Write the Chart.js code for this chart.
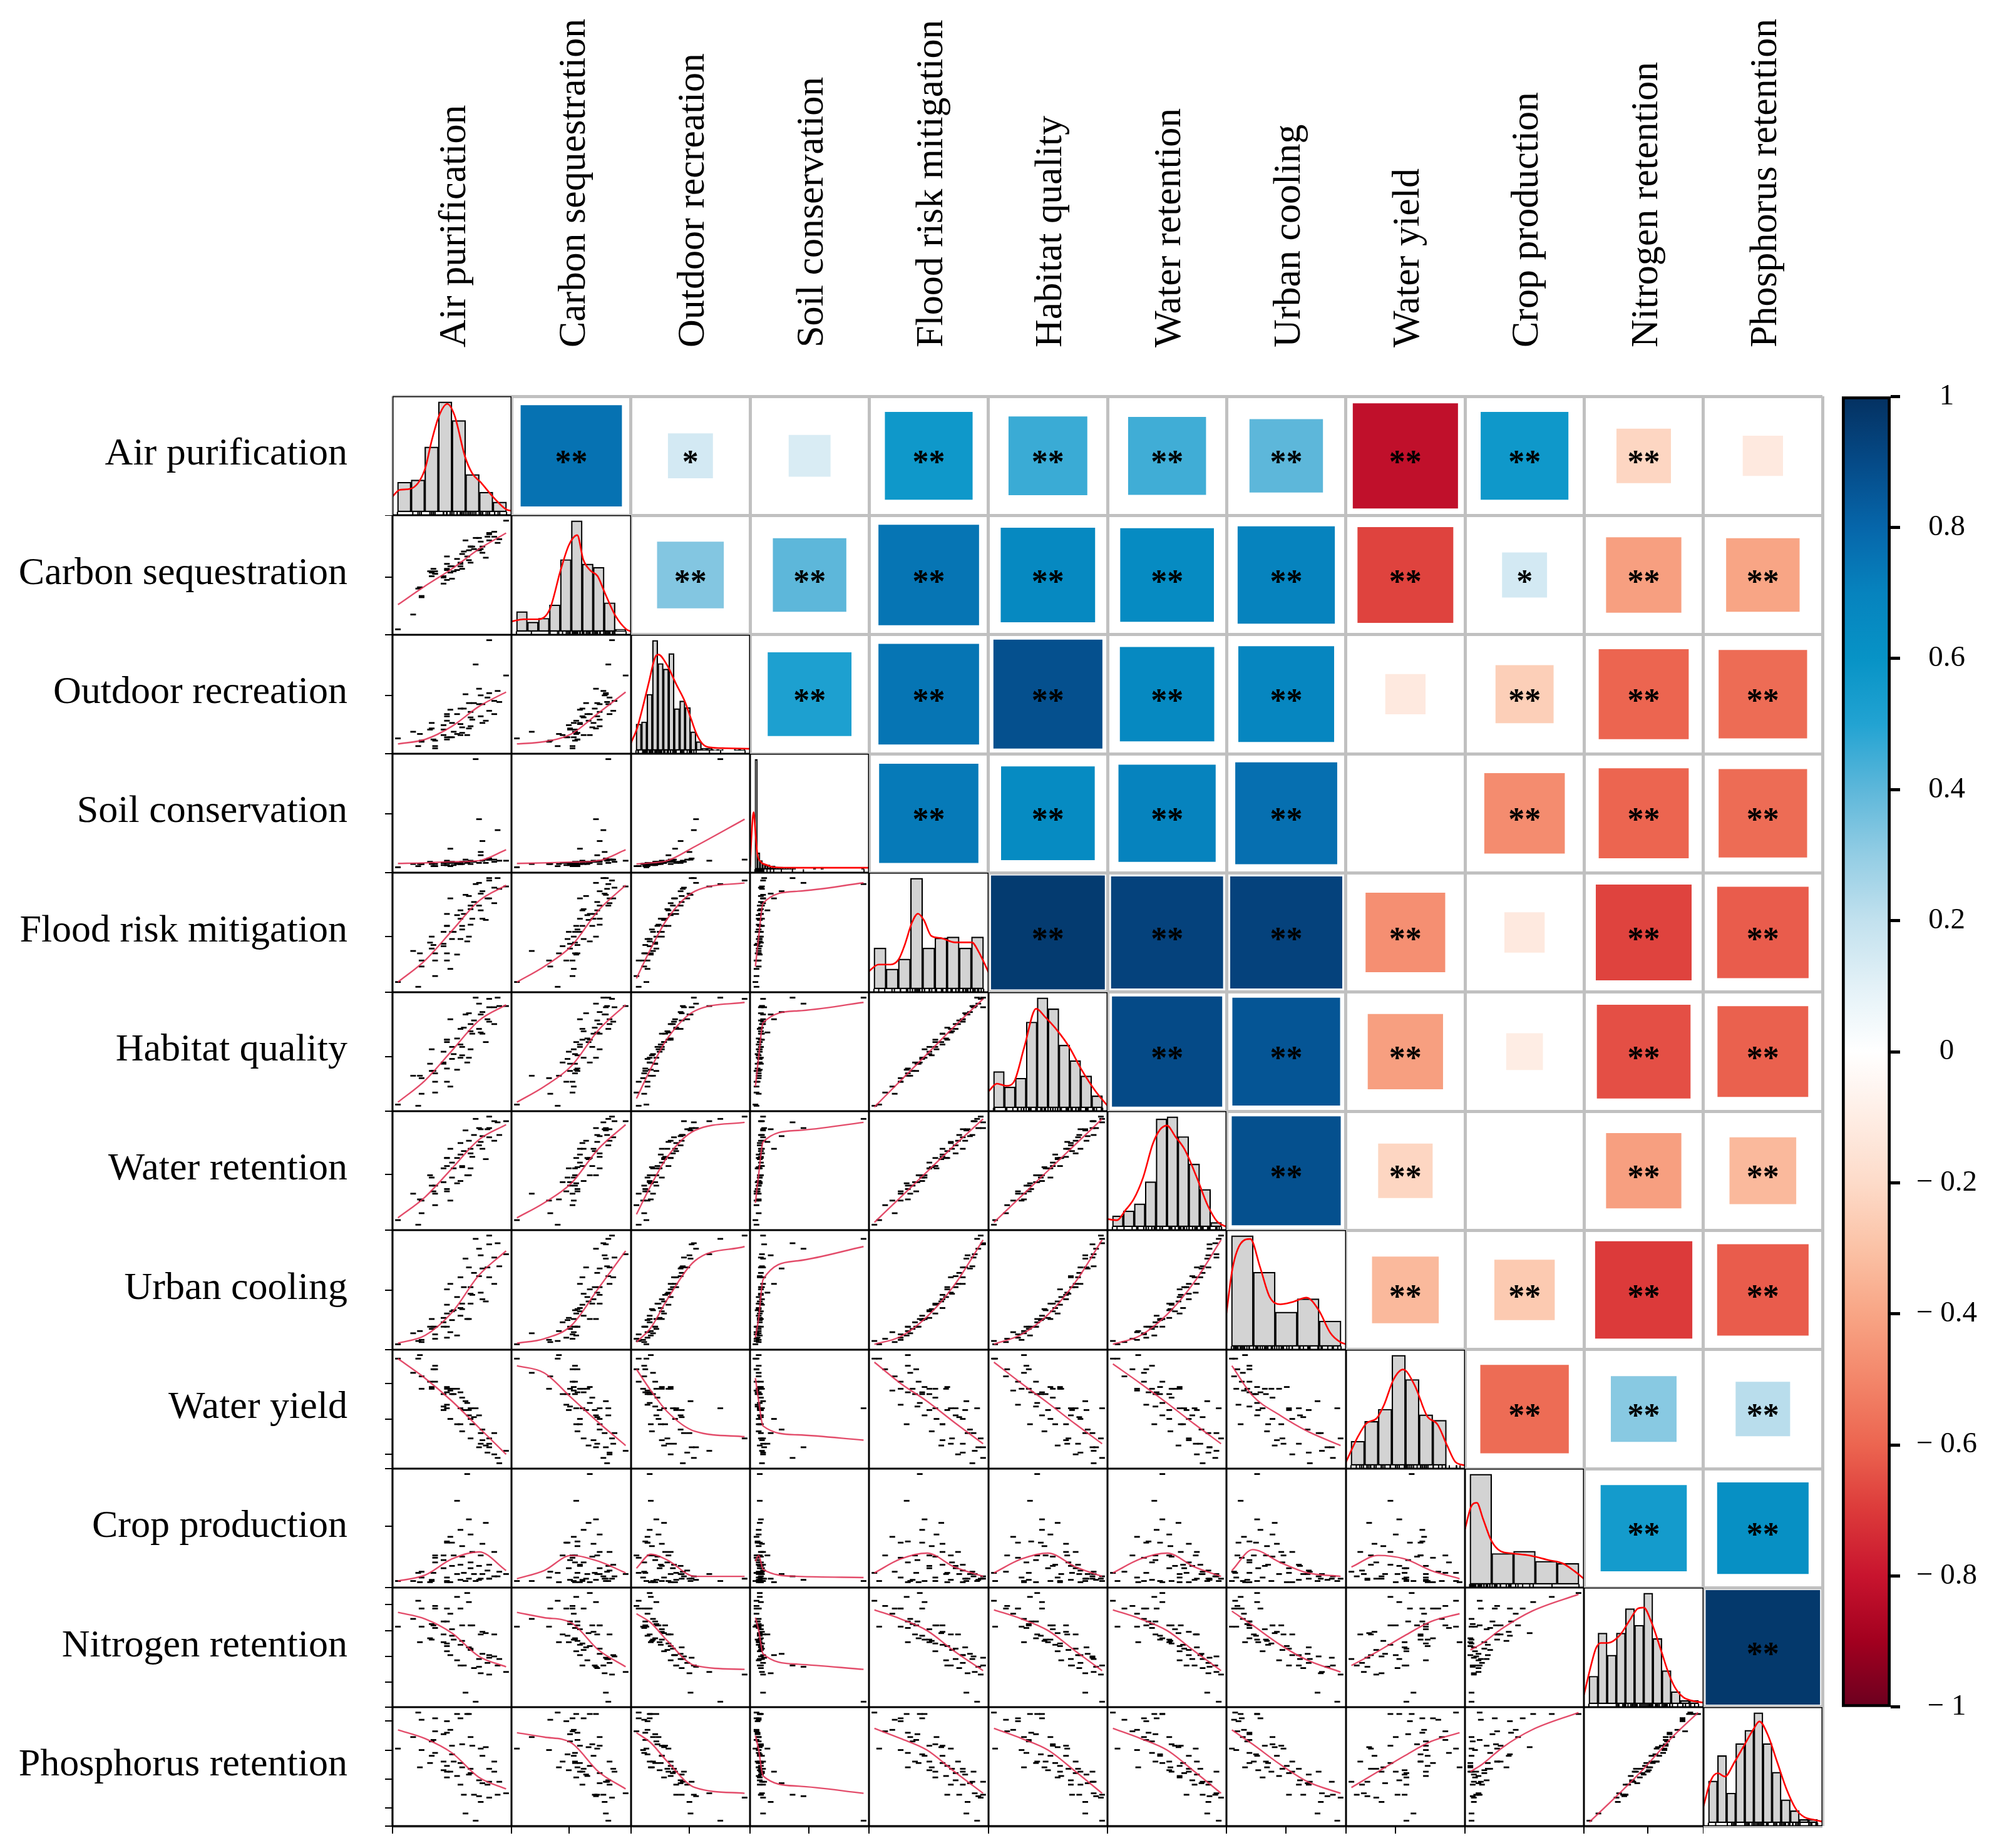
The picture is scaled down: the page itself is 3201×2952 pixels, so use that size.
<!DOCTYPE html>
<html><head><meta charset="utf-8">
<script src="https://cdn.jsdelivr.net/npm/chart.js@4.4.1/dist/chart.umd.min.js"></script>
<style>
html,body{margin:0;padding:0;background:#fff;}
body{width:3201px;height:2952px;position:relative;overflow:hidden;}
.lab{position:absolute;font-family:'Liberation Serif','Times New Roman',serif;font-size:62px;line-height:62px;white-space:nowrap;color:#000;}
</style></head><body>
<script>
// ---------------- DATA ----------------
const variableNames = ['Air purification','Carbon sequestration','Outdoor recreation','Soil conservation','Flood risk mitigation','Habitat quality','Water retention','Urban cooling','Water yield','Crop production','Nitrogen retention','Phosphorus retention'];

// observations (one value per spatial unit, per service)
const airPurification = [0.26,0.14,0.36,0.28,0.45,0.28,0.36,0.27,0.43,0.36,0.23,0.43,0.49,0.35,0.41,0.34,0.55,0.41,0.46,0.33,0.51,0.41,0.56,0.47,0.34,0.52,0.46,0.57,0.43,0.52,0.66,0.43,0.51,0.58,0.49,0.64,0.43,0.57,0.53,0.63,0.57,0.51,0.71,0.62,0.45,0.59,0.68,0.56,0.67,0.64,0.54,0.74,0.63,0.71,0.62,0.78,0.68,0.60,0.73,0.68];
const carbonSequestration = [0.41,0.08,0.53,0.35,0.54,0.34,0.53,0.42,0.48,0.55,0.20,0.57,0.56,0.57,0.45,0.51,0.67,0.51,0.49,0.55,0.62,0.50,0.72,0.55,0.54,0.57,0.59,0.75,0.56,0.69,0.66,0.61,0.59,0.75,0.65,0.70,0.67,0.62,0.71,0.73,0.75,0.61,0.83,0.82,0.59,0.73,0.86,0.64,0.83,0.75,0.80,0.81,0.79,0.87,0.72,0.96,0.80,0.82,0.78,0.85];
const outdoorRecreation = [0.04,0.11,0.02,0.09,0.12,0.08,0.04,0.15,0.12,0.09,0.17,0.10,0.15,0.10,0.14,0.20,0.14,0.19,0.12,0.19,0.14,0.23,0.20,0.17,0.25,0.16,0.25,0.22,0.27,0.21,0.27,0.31,0.24,0.28,0.33,0.25,0.33,0.30,0.38,0.31,0.35,0.38,0.33,0.42,0.37,0.43,0.36,0.43,0.48,0.42,0.51,0.44,0.50,0.45,0.56,0.68,0.52,0.78,0.54,1.00];
const soilConservation = [0.02,0.01,0.02,0.04,0.02,0.04,0.02,0.04,0.03,0.04,0.04,0.03,0.05,0.02,0.05,0.04,0.05,0.03,0.05,0.06,0.04,0.05,0.06,0.03,0.05,0.04,0.06,0.04,0.05,0.06,0.05,0.07,0.04,0.06,0.04,0.07,0.06,0.06,0.06,0.12,0.07,0.05,0.08,0.05,0.18,0.06,0.08,0.06,0.08,0.25,0.08,0.07,0.15,0.06,0.45,0.07,0.09,1.00,0.35,0.08];
const floodRiskMitigation = [0.08,0.12,0.17,0.25,0.23,0.30,0.30,0.36,0.30,0.36,0.38,0.36,0.35,0.43,0.42,0.40,0.46,0.44,0.48,0.45,0.48,0.54,0.50,0.54,0.50,0.56,0.54,0.60,0.59,0.59,0.64,0.59,0.65,0.65,0.68,0.65,0.69,0.73,0.69,0.72,0.76,0.72,0.78,0.76,0.82,0.79,0.82,0.84,0.82,0.88,0.85,0.90,0.86,0.91,0.95,0.92,0.99,0.94,0.99,0.97];
const habitatQuality = [0.09,0.10,0.20,0.19,0.25,0.32,0.29,0.34,0.29,0.36,0.34,0.40,0.39,0.38,0.45,0.38,0.45,0.44,0.48,0.44,0.49,0.54,0.49,0.52,0.56,0.51,0.58,0.56,0.62,0.58,0.62,0.64,0.60,0.69,0.65,0.69,0.64,0.71,0.74,0.70,0.77,0.73,0.77,0.73,0.81,0.80,0.79,0.86,0.81,0.87,0.85,0.92,0.85,0.91,0.94,0.92,0.91,0.99,0.99,0.98];
const waterRetention = [0.06,0.10,0.23,0.16,0.27,0.27,0.33,0.28,0.35,0.40,0.33,0.37,0.42,0.35,0.43,0.40,0.49,0.43,0.47,0.49,0.44,0.55,0.49,0.55,0.47,0.56,0.60,0.55,0.64,0.57,0.63,0.57,0.67,0.65,0.64,0.72,0.64,0.72,0.70,0.78,0.68,0.77,0.79,0.75,0.72,0.84,0.82,0.79,0.89,0.83,0.88,0.84,0.89,0.96,0.90,0.96,0.90,0.98,0.95,1.00];
const urbanCooling = [0.04,0.01,0.06,0.03,0.12,0.05,0.10,0.13,0.07,0.17,0.11,0.17,0.09,0.17,0.21,0.15,0.24,0.17,0.23,0.17,0.27,0.25,0.24,0.32,0.24,0.33,0.31,0.38,0.29,0.38,0.40,0.37,0.34,0.46,0.44,0.42,0.51,0.47,0.53,0.48,0.53,0.62,0.56,0.63,0.56,0.66,0.62,0.71,0.71,0.70,0.79,0.72,0.82,0.80,0.88,0.83,0.92,0.97,0.93,1.00];
const waterYield = [0.74,0.74,0.68,0.64,0.56,0.57,0.61,0.76,0.48,0.70,0.66,0.55,0.37,0.68,0.54,0.57,0.49,0.47,0.54,0.61,0.55,0.45,0.42,0.54,0.58,0.33,0.57,0.40,0.46,0.52,0.25,0.57,0.37,0.37,0.57,0.28,0.58,0.29,0.45,0.26,0.46,0.46,0.20,0.42,0.40,0.41,0.26,0.45,0.21,0.34,0.50,0.15,0.32,0.32,0.24,0.22,0.24,0.46,0.18,0.29];
const cropProduction = [0.10,0.03,0.25,0.11,0.41,0.06,0.23,0.02,0.36,0.19,0.03,0.37,0.72,0.10,0.25,0.04,0.95,0.21,0.36,0.02,0.47,0.14,0.56,0.25,0.03,0.33,0.16,0.43,0.06,0.24,0.53,0.03,0.17,0.28,0.09,0.35,0.02,0.19,0.10,0.25,0.14,0.04,0.28,0.16,0.02,0.09,0.17,0.05,0.12,0.09,0.03,0.11,0.05,0.07,0.04,0.09,0.05,0.03,0.07,0.05];
const nitrogenRetention = [0.83,0.63,0.79,0.77,0.73,0.63,0.77,0.51,0.77,0.62,0.69,0.67,0.86,0.64,0.57,0.65,0.89,0.67,0.56,0.54,0.77,0.51,0.82,0.53,0.53,0.52,0.61,0.64,0.44,0.64,0.58,0.50,0.49,0.64,0.37,0.59,0.48,0.45,0.33,0.57,0.46,0.33,0.57,0.38,0.41,0.31,0.41,0.47,0.35,0.42,0.12,0.38,0.27,0.40,0.32,0.28,0.39,0.05,0.33,0.26];
const phosphorusRetention = [0.86,0.61,0.73,0.81,0.74,0.60,0.82,0.48,0.80,0.58,0.69,0.72,0.85,0.67,0.52,0.66,0.85,0.71,0.57,0.51,0.82,0.46,0.85,0.52,0.56,0.48,0.63,0.69,0.41,0.64,0.62,0.45,0.51,0.63,0.42,0.56,0.49,0.47,0.29,0.61,0.44,0.36,0.52,0.39,0.45,0.29,0.47,0.43,0.36,0.37,0.16,0.38,0.24,0.45,0.28,0.30,0.38,0.11,0.29,0.27];

// histogram bar heights (relative to tallest bar)
const histAirPurification = [0.27,0.29,0.59,1.0,0.83,0.34,0.18,0.09];
const histCarbonSequestration = [0.18,0.085,0.12,0.24,0.65,1.0,0.61,0.58,0.26,0.02];
const histOutdoorRecreation = [0.24,0.26,0.51,1.0,0.79,0.74,0.88,0.38,0.45,0.39,0.17,0.08,0.02,0.02,0.01,0.01,0,0,0.015,0.015];
const histSoilConservation = [1.0,0.15,0.08,0.05,0.04,0.04,0.03,0.03,0.02,0.02,0.02,0.015,0.015,0.01,0.01,0.01,0,0,0,0,0,0,0,0.01,0,0,0.01,0,0,0,0,0,0,0,0,0,0,0,0,0,0,0,0.01];
const histFloodRiskMitigation = [0.37,0.18,0.27,1.0,0.37,0.46,0.47,0.37,0.47];
const histHabitatQuality = [0.33,0.19,0.27,0.78,1.0,0.9,0.57,0.43,0.29,0.11];
const histWaterRetention = [0.1,0.145,0.21,0.41,0.98,1.0,0.82,0.57,0.34,0.04];
const histUrbanCooling = [1.0,0.67,0.31,0.43,0.23];
const histWaterYield = [0.22,0.4,0.51,1.0,0.78,0.46,0.41,0];
const histCropProduction = [1.0,0.28,0.3,0.21,0.19];
const histNitrogenRetention = [0.25,0.64,0.44,0.64,0.86,0.71,1.0,0.59,0.3,0.11,0.03,0.03];
const histPhosphorusRetention = [0.38,0.61,0.27,0.72,0.84,1.0,0.72,0.46,0.21,0.11,0.03,0.03];

// density curves [fraction of panel width, height relative to tallest bar]
const densAirPurification = [[0,.14],[.06,.2],[.15,.21],[.27,.38],[.33,.65],[.39,.87],[.46,.98],[.52,.88],[.61,.5],[.67,.35],[.74,.27],[.85,.13],[.96,.02],[1,.01]];
const densCarbonSequestration = [[0,.09],[.1,.11],[.22,.11],[.32,.2],[.41,.55],[.48,.78],[.55,.87],[.6,.65],[.66,.55],[.72,.5],[.78,.35],[.87,.14],[.96,.02],[1,0]];
const densOutdoorRecreation = [[0,.07],[.05,.2],[.1,.4],[.15,.62],[.2,.84],[.23,.87],[.3,.78],[.38,.6],[.45,.45],[.5,.3],[.55,.15],[.6,.06],[.65,.03],[.8,.02],[1,.015]];
const densSoilConservation = [[0,.02],[.015,.35],[.03,.52],[.045,.35],[.06,.15],[.09,.07],[.14,.04],[.2,.02],[.4,.015],[1,.015]];
const densFloodRiskMitigation = [[0,.16],[.08,.22],[.18,.22],[.25,.27],[.3,.4],[.36,.6],[.41,.68],[.46,.62],[.52,.48],[.6,.46],[.72,.42],[.86,.42],[.92,.33],[1,.15]];
const densHabitatQuality = [[0,.15],[.07,.22],[.15,.2],[.22,.25],[.3,.55],[.4,.9],[.48,.82],[.58,.7],[.68,.55],[.78,.35],[.9,.15],[1,.02]];
const densWaterRetention = [[0,.07],[.08,.06],[.15,.15],[.22,.25],[.3,.45],[.38,.75],[.44,.88],[.5,.92],[.57,.82],[.65,.7],[.75,.45],[.84,.2],[.92,.05],[1,0]];
const densUrbanCooling = [[0,.3],[.05,.7],[.12,.93],[.2,.97],[.28,.72],[.36,.45],[.45,.38],[.55,.4],[.67,.44],[.77,.33],[.87,.12],[.95,.04],[1,.02]];
const densWaterYield = [[0,.03],[.1,.26],[.17,.38],[.26,.43],[.32,.55],[.4,.78],[.48,.87],[.58,.72],[.68,.45],[.77,.37],[.85,.18],[.92,.03],[1,0]];
const densCropProduction = [[0,.5],[.05,.7],[.1,.74],[.15,.6],[.22,.4],[.3,.3],[.4,.28],[.55,.26],[.7,.22],[.82,.19],[.92,.12],[1,.05]];
const densNitrogenRetention = [[0,.08],[.06,.35],[.1,.5],[.14,.55],[.2,.55],[.3,.62],[.38,.75],[.45,.86],[.5,.87],[.56,.75],[.64,.5],[.7,.3],[.76,.15],[.83,.06],[.9,.03],[1,.01]];
const densPhosphorusRetention = [[0,.15],[.06,.38],[.12,.45],[.18,.42],[.26,.55],[.34,.7],[.42,.85],[.47,.92],[.54,.8],[.62,.55],[.7,.3],[.78,.12],[.85,.05],[.92,.03],[1,.01]];

// correlation coefficients, upper triangle (row i, columns i+1..11)
const corrUpper = [
 [0.76,0.15,0.13,0.57,0.46,0.45,0.40,-0.82,0.57,-0.22,-0.12],
 [0.33,0.40,0.75,0.66,0.65,0.70,-0.68,0.15,-0.42,-0.40],
 [0.52,0.75,0.88,0.66,0.68,-0.12,-0.25,-0.60,-0.58],
 [0.73,0.65,0.70,0.77,0.00,-0.48,-0.60,-0.58],
 [0.96,0.93,0.93,-0.47,-0.12,-0.68,-0.62],
 [0.90,0.86,-0.42,-0.10,-0.65,-0.61],
 [0.88,-0.22,0.00,-0.42,-0.33],
 [-0.33,-0.27,-0.70,-0.62],
 [-0.58,0.32,0.22],
 [0.55,0.62],
 [0.97]
];
const signifUpper = [
 ['**','*','','**','**','**','**','**','**','**',''],
 ['**','**','**','**','**','**','**','*','**','**'],
 ['**','**','**','**','**','','**','**','**'],
 ['**','**','**','**','','**','**','**'],
 ['**','**','**','**','','**','**'],
 ['**','**','**','','**','**'],
 ['**','**','','**','**'],
 ['**','**','**','**'],
 ['**','**','**'],
 ['**','**'],
 ['**']
];

// smoothing-line x positions per column variable and y values per panel (row i, column j<i)
const smoothX = [
 [0.14,0.30,0.46,0.62,0.78],[0.08,0.30,0.52,0.74,0.96],[0.02,0.15,0.30,0.55,1.0],[0.01,0.04,0.08,0.40,1.0],
 [0.08,0.30,0.52,0.75,0.99],[0.09,0.32,0.54,0.77,0.99],[0.06,0.30,0.53,0.77,1.0],[0.01,0.20,0.45,0.70,1.0],
 [0.15,0.30,0.45,0.60,0.76],[0.02,0.12,0.30,0.55,0.95],[0.05,0.26,0.47,0.68,0.89]
];
const smoothY = [
 [],
 [[0.28,0.43,0.57,0.73,0.86]],
 [[0.06,0.10,0.22,0.40,0.53],[0.06,0.08,0.15,0.34,0.53]],
 [[0.045,0.05,0.06,0.07,0.17],[0.045,0.05,0.057,0.07,0.17],[0.04,0.05,0.07,0.2,0.45]],
 [[0.12,0.3,0.55,0.8,0.93],[0.12,0.25,0.42,0.72,0.93],[0.15,0.4,0.65,0.88,0.95],[0.25,0.5,0.78,0.88,0.95]],
 [[0.12,0.3,0.55,0.8,0.93],[0.12,0.25,0.42,0.72,0.93],[0.15,0.4,0.65,0.88,0.95],[0.25,0.5,0.78,0.88,0.95],[0.08,0.3,0.52,0.75,0.98]],
 [[0.12,0.3,0.55,0.8,0.93],[0.12,0.25,0.42,0.72,0.93],[0.15,0.4,0.65,0.88,0.95],[0.25,0.5,0.78,0.88,0.95],[0.08,0.3,0.52,0.75,0.98],[0.08,0.31,0.53,0.76,0.98]],
 [[0.02,0.09,0.30,0.64,0.86],[0.02,0.06,0.18,0.52,0.86],[0.03,0.16,0.42,0.77,0.9],[0.07,0.25,0.6,0.77,0.9],[0.01,0.08,0.26,0.55,0.96],[0.01,0.1,0.28,0.58,0.96],[0.01,0.09,0.28,0.58,0.96]],
 [[0.74,0.63,0.5,0.35,0.2],[0.7,0.66,0.52,0.38,0.25],[0.68,0.56,0.44,0.33,0.3],[0.63,0.5,0.36,0.31,0.28],[0.72,0.6,0.5,0.38,0.26],[0.72,0.6,0.49,0.37,0.26],[0.71,0.6,0.49,0.37,0.26],[0.7,0.53,0.42,0.33,0.25]],
 [[0.03,0.08,0.22,0.28,0.12],[0.05,0.12,0.25,0.2,0.1],[0.14,0.26,0.21,0.07,0.07],[0.2,0.25,0.13,0.07,0.06],[0.1,0.22,0.27,0.15,0.07],[0.1,0.22,0.27,0.15,0.07],[0.1,0.22,0.27,0.15,0.07],[0.12,0.3,0.19,0.1,0.07],[0.15,0.25,0.22,0.12,0.05]],
 [[0.74,0.69,0.58,0.4,0.32],[0.74,0.7,0.66,0.45,0.32],[0.73,0.66,0.52,0.33,0.3],[0.7,0.6,0.42,0.34,0.3],[0.76,0.69,0.6,0.44,0.29],[0.76,0.69,0.6,0.44,0.29],[0.76,0.69,0.6,0.44,0.29],[0.75,0.64,0.49,0.37,0.28],[0.33,0.44,0.56,0.67,0.73],[0.45,0.5,0.62,0.75,0.88]],
 [[0.74,0.68,0.58,0.41,0.33],[0.72,0.69,0.65,0.45,0.33],[0.72,0.65,0.52,0.34,0.3],[0.7,0.6,0.42,0.35,0.3],[0.75,0.68,0.6,0.45,0.3],[0.75,0.68,0.6,0.45,0.3],[0.75,0.68,0.6,0.45,0.3],[0.74,0.64,0.5,0.38,0.3],[0.34,0.45,0.56,0.66,0.72],[0.45,0.5,0.62,0.74,0.86],[0.1,0.28,0.47,0.68,0.86]]
];

// colour bar
const colorStops = [[-1,'#6B001F'],[-0.9,'#A2001F'],[-0.8,'#C8142E'],[-0.7,'#DC3A3A'],[-0.6,'#EC6550'],[-0.5,'#F3866A'],[-0.4,'#F8A585'],[-0.3,'#FBC2A6'],[-0.2,'#FDDBC9'],[-0.1,'#FEEDE4'],[0,'#FFFFFF'],[0.1,'#E3F1F7'],[0.2,'#C2E1EE'],[0.3,'#93CDE4'],[0.4,'#5DB7DA'],[0.5,'#22A3D2'],[0.6,'#0793C6'],[0.7,'#0683BE'],[0.8,'#0666AA'],[0.9,'#054A87'],[1,'#043161']];
const colorbarTickLabels = ['\u2212 1','\u2212 0.8','\u2212 0.6','\u2212 0.4','\u2212 0.2','0','0.2','0.4','0.6','0.8','1'];

// ---------------- RENDERING ----------------
const observations = [airPurification,carbonSequestration,outdoorRecreation,soilConservation,floodRiskMitigation,habitatQuality,waterRetention,urbanCooling,waterYield,cropProduction,nitrogenRetention,phosphorusRetention];
const histBins = [histAirPurification,histCarbonSequestration,histOutdoorRecreation,histSoilConservation,histFloodRiskMitigation,histHabitatQuality,histWaterRetention,histUrbanCooling,histWaterYield,histCropProduction,histNitrogenRetention,histPhosphorusRetention];
const densities = [densAirPurification,densCarbonSequestration,densOutdoorRecreation,densSoilConservation,densFloodRiskMitigation,densHabitatQuality,densWaterRetention,densUrbanCooling,densWaterYield,densCropProduction,densNitrogenRetention,densPhosphorusRetention];

Chart.defaults.animation = false;
Chart.defaults.responsive = false;
Chart.defaults.maintainAspectRatio = false;
Chart.defaults.devicePixelRatio = 1;
Chart.defaults.events = [];
Chart.defaults.plugins.legend.display = false;
Chart.defaults.plugins.tooltip.enabled = false;
// keep the plot area exactly on the panel: no automatic padding for large point markers
[Chart.LineController, Chart.ScatterController].forEach(C => { if (C) C.prototype.getMaxOverflow = function(){ return 0; }; });

const GX = 627, GY = 633, CELL = 190.33, NV = 12;
const LABEL_FONT = "'Liberation Serif','Times New Roman',serif";

function hexRgb(h){return [parseInt(h.slice(1,3),16),parseInt(h.slice(3,5),16),parseInt(h.slice(5,7),16)];}
function colorFor(r){
  r = Math.max(-1, Math.min(1, r));
  for (let k = 0; k < colorStops.length - 1; k++) {
    const [v0,c0] = colorStops[k], [v1,c1] = colorStops[k+1];
    if (r >= v0 && r <= v1) {
      const t = (r - v0) / (v1 - v0), a = hexRgb(c0), b = hexRgb(c1);
      return 'rgb(' + [0,1,2].map(q => Math.round(a[q] + (b[q]-a[q])*t)).join(',') + ')';
    }
  }
  return '#fff';
}
function makeCanvas(left, top, w, h, z){
  const c = document.createElement('canvas');
  c.width = w; c.height = h;
  c.style.cssText = 'position:absolute;left:'+left+'px;top:'+top+'px;width:'+w+'px;height:'+h+'px;z-index:'+z+';';
  document.body.appendChild(c);
  return c;
}
function addLabel(text, css){
  const d = document.createElement('div');
  d.className = 'lab'; d.textContent = text; d.style.cssText += css;
  document.body.appendChild(d);
}

// labels
variableNames.forEach((name, i) => {
  const rc = GY + (i + 0.5) * CELL;
  addLabel(name, 'left:0px;width:555px;text-align:right;top:' + (rc - 38).toFixed(1) + 'px;');
  const cc = GX + (i + 0.5) * CELL;
  addLabel(name, 'left:' + (cc - 31).toFixed(1) + 'px;top:555px;transform-origin:0 0;transform:rotate(-90deg);');
});

// upper triangle: correlation squares
const upperPoints = [];
for (let i = 0; i < NV; i++) for (let j = i + 1; j < NV; j++)
  upperPoints.push({x: j + 0.5, y: i + 0.5, r: corrUpper[i][j-i-1], s: signifUpper[i][j-i-1]});

const starPlugin = {id:'stars', afterDatasetsDraw(chart){
  const ctx = chart.ctx, meta = chart.getDatasetMeta(0);
  ctx.save(); ctx.fillStyle = '#000'; ctx.font = 'bold 52px ' + LABEL_FONT;
  ctx.textAlign = 'center'; ctx.textBaseline = 'alphabetic';
  meta.data.forEach((el, k) => { const s = upperPoints[k].s; if (s) ctx.fillText(s, el.x, el.y + 27); });
  ctx.restore();
}};
const mSize = Math.round(12 * CELL) + 20;
const gridAxis = (rev) => ({type:'linear', min:0, max:12, reverse:rev, ticks:{stepSize:1, display:false}, grid:{color:'#C0C0C0', lineWidth:5, drawTicks:false}, border:{display:false}});
new Chart(makeCanvas(GX - 10, GY - 10, mSize, mSize, 1), {
  type:'scatter',
  data:{datasets:[{data: upperPoints, pointStyle:'rect',
    pointRadius: c => { const r = c.raw ? c.raw.r : 0; return CELL * 0.975 * Math.sqrt(Math.abs(r)) / Math.SQRT2; },
    pointBackgroundColor: c => colorFor(c.raw ? c.raw.r : 0), pointBorderWidth:0}]},
  options:{layout:{padding:10}, scales:{x: gridAxis(false), y: gridAxis(true)}},
  plugins:[starPlugin]
});

// lower triangle and diagonal
const framePlugin = {id:'frame',
  beforeDraw(chart){ const {ctx, chartArea:a} = chart; ctx.save(); ctx.fillStyle = '#fff'; ctx.fillRect(a.left, a.top, a.right-a.left, a.bottom-a.top); ctx.restore(); },
  afterDraw(chart){ const {ctx, chartArea:a} = chart; ctx.save(); ctx.strokeStyle = '#000'; ctx.lineWidth = 3; ctx.strokeRect(a.left, a.top, a.right-a.left, a.bottom-a.top); ctx.restore(); }
};
function rangeOf(arr){ const mn = Math.min(...arr), mx = Math.max(...arr); return [mn, mx]; }
function axisOpt(min, max, showTicks, isX){
  if (!showTicks) return {type:'linear', min, max, display:false};
  return {type:'linear', min, max, display:true, position: isX ? 'bottom' : 'left', offset:false,
    ticks:{display:false, maxTicksLimit:6},
    grid:{drawOnChartArea:false, drawTicks:true, tickLength:12, color:'#000', lineWidth:2},
    border:{display:false},
    afterFit: s => { if (isX) s.height = 14; else s.width = 14; }};
}
const EXT = 14;
for (let i = 0; i < NV; i++) {
  for (let j = 0; j <= i; j++) {
    const left = Math.round(GX + j * CELL), right = Math.round(GX + (j + 1) * CELL);
    const top = Math.round(GY + i * CELL), bottom = Math.round(GY + (i + 1) * CELL);
    const yTicks = (j === 0 && i > 0), xTicks = (i === NV - 1 && j < NV - 1);
    const extL = yTicks ? EXT : 0, extB = xTicks ? EXT : 0;
    const cv = makeCanvas(left - extL, top, right - left + extL, bottom - top + extB, 2);
    if (i === j) {
      const bins = histBins[i], n = bins.length;
      const xmin = -0.045 * n, xmax = 1.045 * n;
      const [vmin, vmax] = rangeOf(observations[i]);
      new Chart(cv, {
        type:'bar',
        data:{datasets:[
          {type:'bar', data: bins.map((h, b) => ({x: b + 0.5, y: h})).filter(p => p.y > 0), backgroundColor:'#D3D3D3', borderColor:'#000', borderWidth:2.2, borderSkipped:false, barPercentage:1, categoryPercentage:1, order:3},
          {type:'line', data: densities[i].map(([f, h]) => ({x: xmin + f * (xmax - xmin), y: h})), borderColor:'#FF0000', borderWidth:2.6, pointRadius:0, tension:0.4, cubicInterpolationMode:'monotone', fill:false, order:1},
          {type:'scatter', data: observations[i].map(v => ({x: (v - vmin) / (vmax - vmin) * n, y: -0.016})), pointStyle:'line', pointRotation:90, pointRadius:3, pointBorderWidth:2, pointBorderColor:'#000', pointBackgroundColor:'#000', order:2}
        ]},
        options:{layout:{padding:0}, scales:{x:{type:'linear', min:xmin, max:xmax, display:false, offset:false}, y:{type:'linear', min:-0.03, max:1.05, display:false}}},
        plugins:[framePlugin]
      });
    } else {
      const xs = observations[j], ys = observations[i];
      const [x0, x1] = rangeOf(xs), [y0, y1] = rangeOf(ys);
      const px = (x1 - x0) * 0.05, py = (y1 - y0) * 0.05;
      const sx = smoothX[j], sy = smoothY[i][j];
      new Chart(cv, {
        type:'scatter',
        data:{datasets:[
          {type:'line', data: sx.map((x, t) => ({x, y: sy[t]})), borderColor:'rgba(222,45,80,0.85)', borderWidth:2.4, pointRadius:0, tension:0.4, cubicInterpolationMode:'monotone', fill:false, order:1},
          {type:'scatter', data: xs.map((x, k) => ({x, y: ys[k]})), pointStyle:'line', pointRadius:4.5, pointBorderWidth:2.8, pointBorderColor:'#000', pointBackgroundColor:'#000', order:2}
        ]},
        options:{layout:{padding:0}, scales:{x: axisOpt(x0 - px, x1 + px, xTicks, true), y: axisOpt(y0 - py, y1 + py, yTicks, false)}},
        plugins:[framePlugin]
      });
    }
  }
}

// colour bar (value 1 at the grid top, -1 at the bottom of row 11)
const cbTopPx = GY, cbBottomPx = Math.round(GY + 11 * CELL);
function colorbarConfig(){
  return {
  type:'bar',
  data:{labels:['r'], datasets:[{data:[[-1, 1]],
    backgroundColor: c => {
      const ch = c.chart, ys = ch.scales.y;
      if (!ch.chartArea || !ys) return '#ccc';
      const g = ch.ctx.createLinearGradient(0, ys.getPixelForValue(-1), 0, ys.getPixelForValue(1));
      colorStops.forEach(([v, col]) => g.addColorStop((v + 1) / 2, col));
      return g;
    },
    borderColor:'#000', borderWidth:5, borderSkipped:false, barPercentage:1, categoryPercentage:1}]},
  options:{layout:{padding:{top:40, bottom:40, left:0, right:0}},
    scales:{
      x:{display:false},
      y:{position:'right', min:-1, max:1,
        ticks:{stepSize:0.2, color:'#000', padding:26, crossAlign:'center', font:{family:LABEL_FONT, size:47},
          callback:(v, idx) => colorbarTickLabels[idx]},
        grid:{drawOnChartArea:false, drawTicks:true, tickLength:15, lineWidth:5, color:'#000'},
        border:{display:false},
        afterFit: s => { s.width = 170; }}
    }}
  };
}
let cbCanvas = makeCanvas(2942, cbTopPx - 40, 248, cbBottomPx - cbTopPx + 80, 3);
let cbChart = new Chart(cbCanvas, colorbarConfig());
const ca = cbChart.chartArea;
const padT = ca.top, padB = cbCanvas.height - ca.bottom;
if (Math.abs(padT - 40) > 0.5 || Math.abs(padB - 40) > 0.5) {
  cbChart.destroy(); cbCanvas.remove();
  cbCanvas = makeCanvas(2942, Math.round(cbTopPx - padT), 248, Math.round(padT + (cbBottomPx - cbTopPx) + padB), 3);
  cbChart = new Chart(cbCanvas, colorbarConfig());
}
</script>
</body></html>
